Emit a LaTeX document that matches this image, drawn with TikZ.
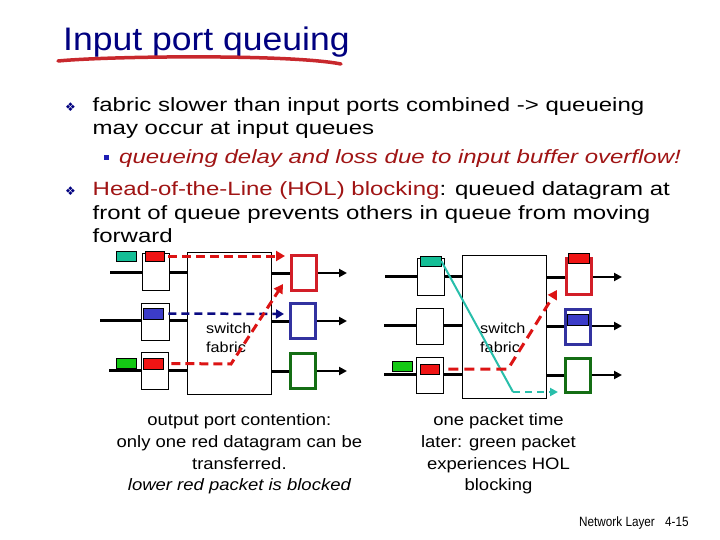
\documentclass[tikz,border=0pt]{standalone}
\usepackage{fontspec}
\setmainfont{Liberation Sans}
\newfontfamily\titlefont[FakeStretch=1.09]{Liberation Sans}
\newfontfamily\bodyfont[FakeStretch=1.25]{Liberation Sans}
\newfontfamily\capfont[FakeStretch=1.12]{Liberation Sans}
\newfontfamily\footfont[FakeStretch=0.87]{Liberation Sans}
\newfontfamily\symfont{DejaVu Sans}
\usetikzlibrary{arrows.meta}
\definecolor{navy}{RGB}{0,0,128}
\definecolor{dred}{RGB}{160,20,20}
\definecolor{sqblue}{RGB}{30,30,180}
\definecolor{pktred}{RGB}{240,20,20}
\definecolor{pktteal}{RGB}{20,190,150}
\definecolor{pktgreen}{RGB}{20,200,20}
\definecolor{pktblue}{RGB}{60,60,200}
\definecolor{obred}{RGB}{210,30,40}
\definecolor{obblue}{RGB}{50,50,160}
\definecolor{obgreen}{RGB}{20,110,20}
\definecolor{dashred}{RGB}{220,20,20}
\definecolor{dashblue}{RGB}{10,10,130}
\definecolor{tealline}{RGB}{40,190,170}
\definecolor{brush}{RGB}{200,40,45}
\tikzset{
  inbox/.style={draw, line width=0.8pt, fill=white, inner sep=0pt, minimum width=27pt, minimum height=37pt},
  pkt/.style={draw, line width=0.6pt, inner sep=0pt, minimum width=20pt, minimum height=10pt},
  fab/.style={draw, line width=0.8pt, fill=white, inner sep=0pt, minimum width=84pt, minimum height=142pt},
  outbox/.style={draw, line width=3pt, fill=white, inner sep=0pt, minimum width=25pt, minimum height=35pt},
  wire/.style={line width=3pt},
  outwire/.style={line width=2.5pt, -{Triangle[length=8pt,width=8pt]}},
  rdash/.style={draw=dashred, line width=3pt, dash pattern=on 9pt off 5pt, -{Triangle[length=9pt,width=10pt]}},
  bdash/.style={draw=dashblue, line width=2.5pt, dash pattern=on 8pt off 5pt, -{Triangle[length=8pt,width=9pt]}},
  tline/.style={draw=tealline, line width=2pt},
  tdash/.style={draw=tealline, line width=2.5pt, dash pattern=on 7pt off 5pt, -{Triangle[length=8pt,width=8pt]}},
  bodytxt/.style={anchor=base west, inner sep=0pt, font=\bodyfont\fontsize{19.2}{23}\selectfont},
  captxt/.style={anchor=base, inner sep=0pt, font=\capfont\fontsize{16.5}{21}\selectfont},
  labtxt/.style={anchor=base west, inner sep=0pt, font=\capfont\fontsize{14.5}{18}\selectfont},
  bulsym/.style={inner sep=0pt, text=navy, font=\symfont\fontsize{12}{12}\selectfont},
}
\begin{document}
\begin{tikzpicture}[x=1pt,y=-1pt]
\fill[white] (0,0) rectangle (720,540);
\path[use as bounding box] (0,0) rectangle (720,540);

% Title
\node[anchor=base west, inner sep=0pt, text=navy, font=\titlefont\fontsize{32.6}{36}\selectfont] (title) at (63,51) {Input port queuing};
\coordinate (ul1) at (58,61);
\coordinate (ul2) at (341,64);
\draw[brush, line width=3.5pt, line cap=round] (ul1) .. controls (110,56) and (290,54) .. (ul2);

% Bullets and body text
\node[bulsym] (bul1) at (70.5,107.5) {❖};
\node[bodytxt] (b1) at (92.5,112) {fabric slower than input ports combined -> queueing};
\node[bodytxt] (b2) at (92.5,134.5) {may occur at input queues};
\node[fill=sqblue, inner sep=0pt, minimum size=5pt] (sq) at (106.8,157.7) {};
\node[bodytxt, text=dred] (b3) at (119,164) {\itshape queueing delay and loss due to input buffer overflow!};
\node[bulsym] (bul2) at (70.5,191.5) {❖};
\node[bodytxt] (b4) at (92.5,196) {\textcolor{dred}{Head-of-the-Line (HOL) blocking}: queued datagram at};
\node[bodytxt] (b5) at (92.5,219) {front of queue prevents others in queue from moving};
\node[bodytxt] (b6) at (92.5,242) {forward};

% ================= Left diagram =================
\coordinate (L_s1) at (110,272);
\coordinate (L_s2) at (100,320);
\coordinate (L_s3) at (109,370);
\node[fab] (L_fab) at (229,323) {};
\node[inbox] (L_in1) at (155.5,272) {};
\node[inbox, minimum width=28pt] (L_in2) at (155,321.5) {};
\node[inbox] (L_in3) at (154.5,370.5) {};
\draw[wire] (L_s1) -- (L_s1 -| L_in1.west);
\draw[wire] (L_s2) -- (L_s2 -| L_in2.west);
\draw[wire] (L_s3) -- (L_s3 -| L_in3.west);
\draw[wire] (L_in1.east |- L_s1) -- (L_fab.west |- L_s1);
\draw[wire] (L_in2.east |- L_s2) -- (L_fab.west |- L_s2);
\draw[wire] (L_in3.east |- L_s3) -- (L_fab.west |- L_s3);

\node[outbox, draw=obred] (L_out1) at (304,273) {};
\node[outbox, draw=obblue] (L_out2) at (303,321) {};
\node[outbox, draw=obgreen] (L_out3) at (303,371) {};
\coordinate (L_t1) at (347,273);
\coordinate (L_t2) at (347,321);
\coordinate (L_t3) at (347,371);
\draw[wire] (L_fab.east |- L_out1) -- (L_out1.west);
\draw[wire] (L_fab.east |- L_out2) -- (L_out2.west);
\draw[wire] (L_fab.east |- L_out3) -- (L_out3.west);
\draw[outwire] (L_out1.east) -- (L_t1);
\draw[outwire] (L_out2.east) -- (L_t2);
\draw[outwire] (L_out3.east) -- (L_t3);

\node[pkt, fill=pktteal] (L_teal) at (126,256) {};
\node[pkt, fill=pktred, minimum width=19pt] (L_red1) at (154.5,256) {};
\node[pkt, fill=pktblue, minimum height=11pt] (L_blue) at (153,313.5) {};
\node[pkt, fill=pktred, minimum height=11pt] (L_red3) at (153,363.5) {};
\node[pkt, fill=pktgreen] (L_green) at (126,363) {};

\node[labtxt] (L_lab1) at (206,333) {switch};
\node[labtxt] (L_lab2) at (206,352) {fabric};

\coordinate (L_d1) at (285,256);
\coordinate (L_d2) at (284,314);
\coordinate (L_k) at (231,364);
\coordinate (L_d3) at (283,284);
\draw[rdash] ([xshift=4pt]L_red1.east) -- (L_d1);
\draw[bdash] ([xshift=5pt]L_blue.east) -- (L_d2);
\draw[rdash] ([xshift=8pt]L_red3.east) -- (L_k) -- (L_d3);

\node[captxt] (L_c1) at (239.4,425.5) {output port contention:};
\node[captxt] (L_c2) at (239.4,447) {only one red datagram can be};
\node[captxt] (L_c3) at (239.4,469) {transferred.};
\node[captxt] (L_c4) at (239.4,490.5) {\itshape lower red packet is blocked};

% ================= Right diagram =================
\coordinate (R_s1) at (385,276);
\coordinate (R_s2) at (384,325);
\coordinate (R_s3) at (384,374);
\node[fab, minimum height=143pt] (R_fab) at (504,326.5) {};
\node[inbox] (R_in1) at (430.5,276.5) {};
\node[inbox, minimum height=36pt] (R_in2) at (429.5,326) {};
\node[inbox, minimum height=36pt] (R_in3) at (429.5,375) {};
\draw[wire] (R_s1) -- (R_s1 -| R_in1.west);
\draw[wire] (R_s2) -- (R_s2 -| R_in2.west);
\draw[wire] (R_s3) -- (R_s3 -| R_in3.west);
\draw[wire] (R_in1.east |- R_s1) -- (R_fab.west |- R_s1);
\draw[wire] (R_in2.east |- R_s2) -- (R_fab.west |- R_s2);
\draw[wire] (R_in3.east |- R_s3) -- (R_fab.west |- R_s3);

\node[outbox, draw=obred, minimum height=36pt] (R_out1) at (579,276.5) {};
\node[outbox, draw=obblue] (R_out2) at (578,327) {};
\node[outbox, draw=obgreen, minimum height=34pt] (R_out3) at (578,375.5) {};
\coordinate (R_t1) at (622,277);
\coordinate (R_t2) at (622,326);
\coordinate (R_t3) at (622,375);
\draw[wire] (R_fab.east |- R_t1) -- (R_t1 -| R_out1.west);
\draw[wire] (R_fab.east |- R_t2) -- (R_t2 -| R_out2.west);
\draw[wire] (R_fab.east |- R_t3) -- (R_t3 -| R_out3.west);
\draw[outwire] (R_t1 -| R_out1.east) -- (R_t1);
\draw[outwire] (R_t2 -| R_out2.east) -- (R_t2);
\draw[outwire] (R_t3 -| R_out3.east) -- (R_t3);

\node[pkt, fill=pktteal, minimum width=21pt] (R_teal) at (430.5,261) {};
\node[pkt, fill=pktred, minimum width=19pt] (R_red3) at (429.5,369) {};
\node[pkt, fill=pktgreen] (R_green) at (402,366) {};
\node[pkt, fill=pktred, minimum width=21pt] (R_redpkt) at (578.5,258) {};
\node[pkt, fill=pktblue, minimum width=21pt, minimum height=11pt] (R_bluepkt) at (577.5,319.5) {};

\node[labtxt] (R_lab1) at (480,333) {switch};
\node[labtxt] (R_lab2) at (480,352) {fabric};

\coordinate (R_k) at (513,392);
\coordinate (R_d) at (558,392);
\coordinate (R_k2) at (508,368);
\coordinate (R_d2) at (557,290);
\draw[tline] (R_teal.east) -- (R_k);
\draw[tdash] (R_k) -- (R_d);
\draw[rdash, dash pattern=on 10pt off 6pt] ([xshift=9pt]R_red3.east) -- (R_k2 |- R_red3.east) -- (R_d2);

\node[captxt] (R_c1) at (498.5,425.5) {one packet time};
\node[captxt] (R_c2) at (498.5,447) {later: green packet};
\node[captxt] (R_c3) at (498.5,469) {experiences HOL};
\node[captxt] (R_c4) at (498.5,490.5) {blocking};

% Footer
\node[anchor=base west, inner sep=0pt, font=\footfont\fontsize{13.5}{14}\selectfont] (foot1) at (579,526) {Network Layer};
\node[anchor=base west, inner sep=0pt, font=\footfont\fontsize{13.5}{14}\selectfont] (foot2) at (665,526) {4-15};
\end{tikzpicture}
\end{document}
